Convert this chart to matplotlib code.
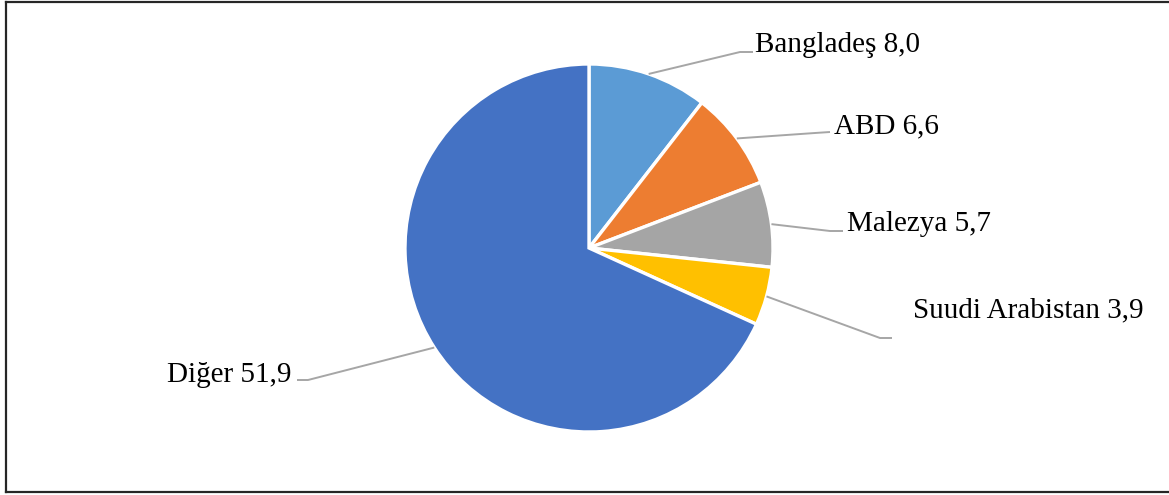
import numpy as np
import matplotlib
matplotlib.use("Agg")
import matplotlib.pyplot as plt
from matplotlib.lines import Line2D

# veriler
ulkeler = ["Bangladeş", "ABD", "Malezya", "Suudi Arabistan", "Diğer"]
degerler = [8.0, 6.6, 5.7, 3.9, 51.9]
renkler = ["#5B9BD5", "#ED7D31", "#A5A5A5", "#FFC000", "#4472C4"]

# etiket yerleşimi (piksel): dirsek, yatay çizgi sonu, metin konumu
dirsek = [(740, 52), (815, 133), (830, 231), (880, 338), (308, 380)]
cizgi_sonu = [(753, 52), (830, 132), (843, 231), (892, 338), (297, 380)]
metin_yeri = [(755, 52), (834, 133), (847, 231), (913, 317), (291, 382)]
hizalama = ["left", "left", "left", "left", "right"]

W, H = 1169, 495
cx, cy, R = 589, 248, 184

plt.rcParams['font.family'] = ['Liberation Serif', 'DejaVu Serif']

fig = plt.figure(figsize=(W / 100, H / 100), dpi=100)
ax = fig.add_axes([0, 0, 1, 1])

wedges, _ = ax.pie(degerler, colors=renkler, startangle=90, counterclock=False,
                   radius=1, center=(0, 0),
                   wedgeprops=dict(edgecolor='white', linewidth=2.4))

ax.set_aspect('auto')
ax.set_xlim(-cx / R, (W - cx) / R)
ax.set_ylim(-(H - cy) / R, cy / R)
ax.axis('off')


def px(p):
    return ((p[0] - cx) / R, (cy - p[1]) / R)


for w, ad, deg, d, s, m, ha in zip(wedges, ulkeler, degerler, dirsek, cizgi_sonu, metin_yeri, hizalama):
    aci = np.deg2rad((w.theta1 + w.theta2) / 2)
    bas = (np.cos(aci), np.sin(aci))
    d, s, m = px(d), px(s), px(m)
    ax.plot([bas[0], d[0], s[0]], [bas[1], d[1], s[1]], color='#A6A6A6', lw=1.4,
            solid_capstyle='butt', zorder=1)
    etiket = f"{ad} {deg:.1f}".replace('.', ',')
    ax.text(m[0], m[1], etiket, ha=ha, va='baseline', fontsize=21, color='black')

# çerçeve
for xs, ys in [([5.5, 5.5], [1.5, 492]), ([5.5, 1175], [1.5, 1.5]), ([5.5, 1175], [492, 492])]:
    fig.add_artist(Line2D([x / W for x in xs], [1 - y / H for y in ys],
                          color='#262626', lw=1.6, transform=fig.transFigure))

plt.savefig('out.png', dpi=100, facecolor='white')
